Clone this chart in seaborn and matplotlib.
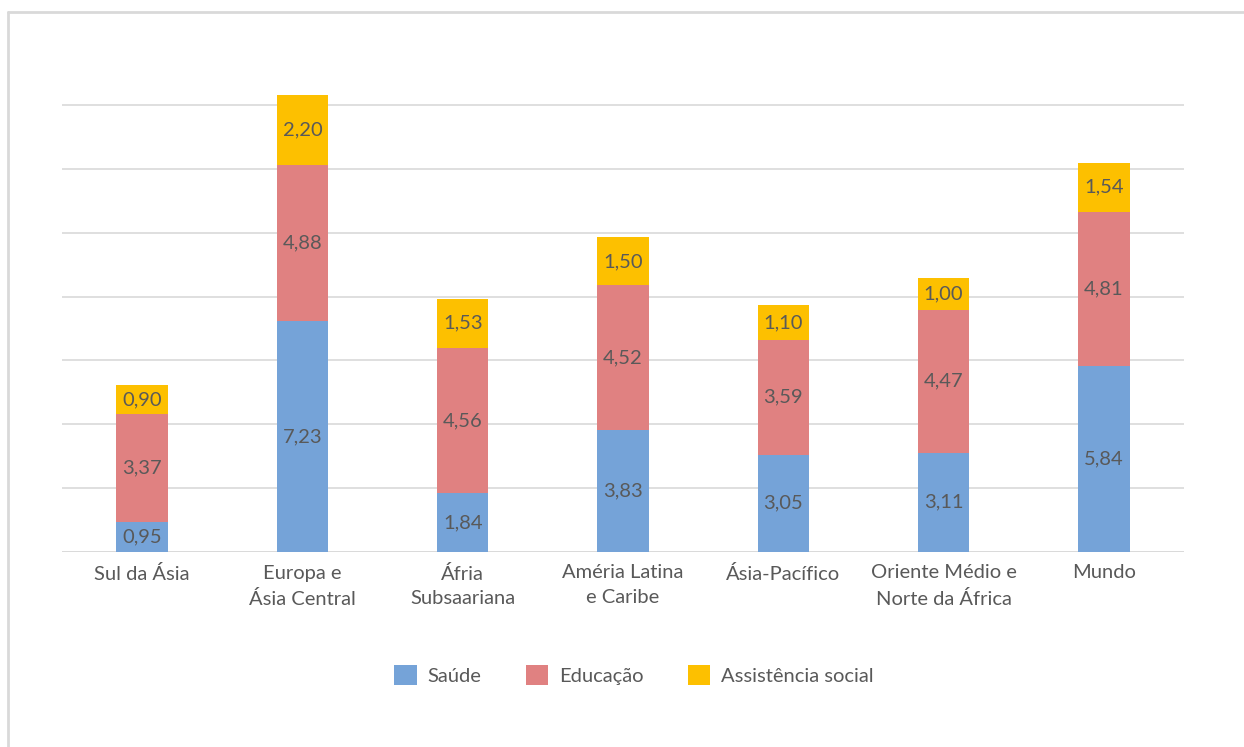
import matplotlib
matplotlib.use("Agg")
import matplotlib.pyplot as plt
import seaborn as sns
import numpy as np
import pandas as pd
from matplotlib.patches import Patch
from matplotlib.lines import Line2D

categories = ["Sul da Ásia", "Europa e\nÁsia Central", "Áfria\nSubsaariana",
              "Améria Latina\ne Caribe", "Ásia-Pacífico", "Oriente Médio e\nNorte da África", "Mundo"]
saude = [0.95, 7.23, 1.84, 3.83, 3.05, 3.11, 5.84]
educacao = [3.37, 4.88, 4.56, 4.52, 3.59, 4.47, 4.81]
assistencia = [0.90, 2.20, 1.53, 1.50, 1.10, 1.00, 1.54]
series_names = ["Saúde", "Educação", "Assistência social"]
colors = ["#75A3D8", "#E08181", "#FDC000"]

sns.set_theme(style="white")
plt.rcParams["font.family"] = ["Lato", "DejaVu Sans"]
FS = 14.5

fig = plt.figure(figsize=(12.44, 7.47), dpi=100)
ax = fig.add_axes([62/1244, (747-552)/747, (1184-62)/1244, (15*31.93)/747])

s = np.array(saude); e = np.array(educacao); a = np.array(assistencia)
df = pd.DataFrame({"cat": categories, "tot": s+e+a, "se": s+e, "s": s})
order = categories
for col, c in zip(["tot", "se", "s"], colors[::-1]):
    sns.barplot(data=df, x="cat", y=col, order=order, color=c, width=0.32,
                saturation=1, ax=ax, zorder=3, linewidth=0)

for i in range(len(categories)):
    bottoms = [0, s[i], s[i]+e[i]]
    vals = [s[i], e[i], a[i]]
    for b, v in zip(bottoms, vals):
        ax.text(i, b+v/2, f"{v:.2f}".replace(".", ","), ha="center", va="center",
                fontsize=FS, color="#595959", zorder=5)

ax.set_ylim(0, 15)
ax.set_xlim(-0.5, len(categories)-0.5)
ax.set_yticks(np.arange(0, 15, 2))
ax.set_yticklabels([])
ax.yaxis.grid(True, color="#D9D9D9", linewidth=1.2, zorder=0)
ax.set_axisbelow(True)
for sp in ["top", "right", "left", "bottom"]:
    ax.spines[sp].set_visible(False)
ax.axhline(0, color="#D9D9D9", linewidth=1.2, zorder=1)
ax.tick_params(axis="both", length=0)
ax.tick_params(axis="x", pad=9)
ax.set_xticklabels(categories, fontsize=FS, color="#595959", linespacing=1.55)
ax.set_xlabel("")
ax.set_ylabel("")

handles = [Patch(facecolor=c, edgecolor="none") for c in colors]
fig.legend(handles, series_names, loc="center", bbox_to_anchor=(634/1244, 1-675/747),
           ncol=3, frameon=False, fontsize=FS, handlelength=1.1, handleheight=1.1,
           columnspacing=2.2, handletextpad=0.55, labelcolor="#595959")

# outer border (top and left edges visible)
fig.add_artist(Line2D([8/1244, 1.0], [1-12/747, 1-12/747], transform=fig.transFigure,
                      color="#D9D9D9", linewidth=2))
fig.add_artist(Line2D([8/1244, 8/1244], [0, 1-12/747], transform=fig.transFigure,
                      color="#D9D9D9", linewidth=2))

fig.savefig("out.png", dpi=100)
